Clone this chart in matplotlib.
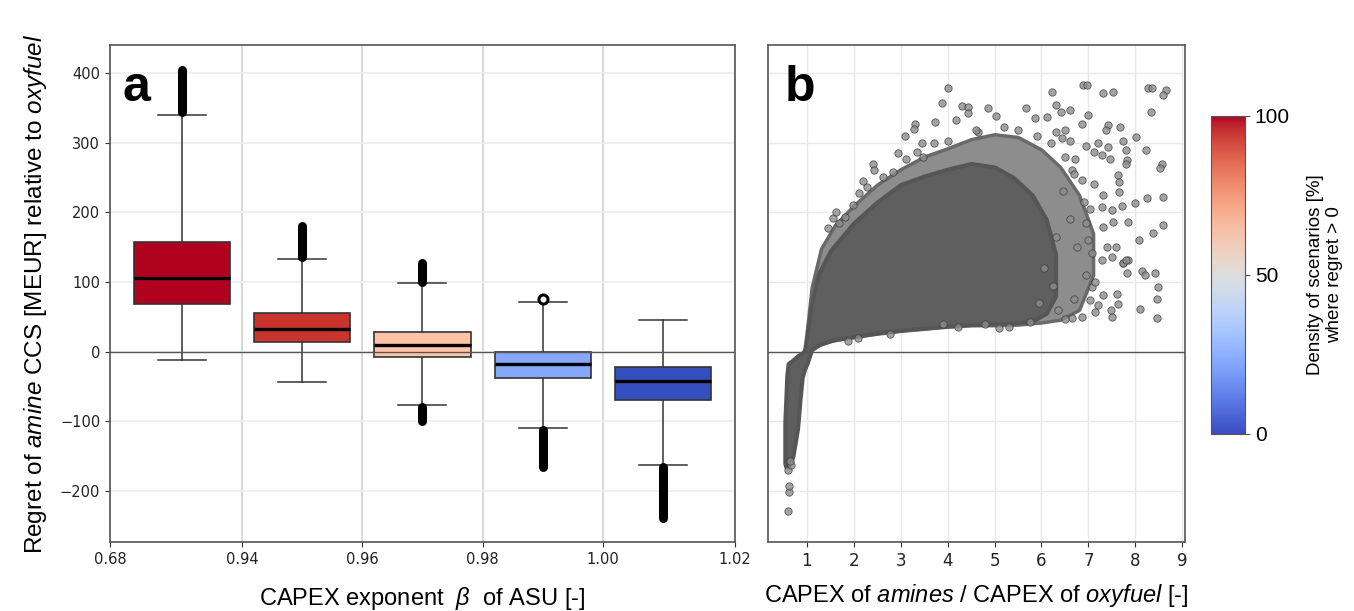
import numpy as np
import matplotlib.pyplot as plt
import matplotlib as mpl

plt.rcParams['mathtext.fontset'] = 'custom'
plt.rcParams['mathtext.rm'] = 'Liberation Sans'
plt.rcParams['mathtext.it'] = 'Liberation Sans:italic'

# ---- panel a: box statistics per CAPEX exponent bin (MEUR) ----
beta_ticks = ['0.68', '0.94', '0.96', '0.98', '1.00', '1.02']
box_colors = ['#b0021f', '#c9342d', '#fdc5a6', '#85a8fb', '#3450bf']
q1 = [69, 14, -7, -38, -69]
med = [106, 32, 9, -18, -42]
q3 = [158, 55, 28, -1, -22]
whis_lo = [-12, -43, -77, -110, -163]
whis_hi = [340, 133, 98, 71, 46]
# dense outlier runs (centres of first / last flier)
fl_hi_start = [344, 136, 100, 73, None]
fl_hi_end = [404, 180, 128, 75, None]
fl_lo_start = [None, None, -80, -113, -166]
fl_lo_end = [None, None, -99, -166, -239]

# ---- panel b: scatter of regret vs CAPEX ratio ----
# dense core of the point cloud
core_x = [0.53, 0.55, 0.57, 0.6, 0.7, 0.8, 0.85, 0.9, 0.95, 1.0, 1.1, 1.25,
          1.5, 2.0, 2.5, 3.0, 3.5, 4.0, 4.5, 5.0, 5.4, 5.8, 6.1, 6.3]
core_lo = [-160, -165, -165, -165, -150, -110, -70, -36, -25, -17, 3, 10,
           16, 22, 27, 31, 34, 37, 39, 40, 41, 44, 55, 80]
core_hi = [-100, -70, -36, -17, -12, -6, -4, -2, 2, 25, 70, 112,
           145, 185, 215, 240, 252, 262, 270, 265, 250, 225, 190, 140]
# less dense halo around the core
halo_x = [1.0, 1.1, 1.3, 1.6, 2.0, 2.5, 3.0, 3.5, 4.0, 4.5, 5.0, 5.5, 6.0,
          6.4, 6.8, 7.1]
halo_lo = [-17, 3, 11, 17, 21, 26, 30, 33, 36, 38, 38, 39, 42, 46, 60, 110]
halo_hi = [30, 92, 148, 182, 210, 240, 262, 280, 292, 305, 312, 308, 290,
           265, 225, 170]
# individual scattered scenarios outside the cloud
pts_x = [4.01, 3.89, 4.30, 4.44, 4.44, 3.30, 3.29, 3.74, 4.17, 3.09, 3.45, 4.00,
         4.65, 2.41, 2.42, 2.84, 2.63, 2.11, 2.27, 1.99, 1.81, 1.69, 3.34, 3.48,
         3.12, 6.89, 6.98, 6.22, 7.32, 7.52, 8.28, 8.35, 8.65, 8.60, 8.33, 4.85,
         5.67, 5.04, 5.86, 6.31, 6.42, 6.61, 6.11, 7.00, 6.87, 7.42, 7.38, 7.67,
         8.01, 7.74, 8.22, 8.56, 8.52, 7.80, 7.83, 7.80, 7.64, 7.65, 7.65, 8.26,
         8.58, 7.99, 7.72, 8.60, 8.38, 8.08, 7.85, 7.74, 7.84, 7.41, 7.21, 7.28,
         7.46, 6.94, 7.11, 6.71, 6.60, 6.43, 6.30, 6.50, 6.66, 6.86, 7.11, 7.32,
         7.04, 7.28, 7.50, 6.94, 7.32, 7.53, 7.00, 7.39, 7.59, 7.28, 7.50, 7.07,
         7.50, 8.46, 8.10, 8.46, 8.49, 7.82, 8.14, 8.42, 8.21, 7.64, 7.62, 7.32,
         7.49, 7.14, 6.86, 6.66, 6.50, 7.74, 7.81, 7.07, 7.04, 7.21,
         1.88, 2.09, 2.77, 4.23, 0.59, 0.62, 0.62, 0.59, 0.66, 0.64,
         5.2, 5.5, 5.9, 6.2, 6.5, 6.7, 6.9, 6.6, 6.3, 6.05, 5.3, 4.8,
         6.95, 6.75, 6.45, 6.25, 5.95, 6.35, 6.7, 7.15, 4.6, 3.7, 2.95, 2.2,
         1.55, 1.45, 1.62, 3.9, 5.1, 5.75]
pts_y = [378, 357, 352, 351, 343, 327, 319, 329, 333, 309, 300, 302,
         315, 269, 261, 258, 250, 227, 236, 211, 194, 184, 287, 279,
         277, 382, 382, 373, 371, 373, 379, 379, 375, 369, 344, 350,
         350, 338, 335, 354, 344, 347, 337, 339, 326, 325, 318, 323,
         308, 302, 290, 269, 264, 289, 275, 269, 253, 244, 229, 221,
         222, 214, 209, 182, 171, 160, 186, 127, 132, 293, 300, 282,
         276, 295, 287, 277, 303, 306, 315, 318, 260, 246, 241, 225,
         205, 208, 203, 184, 179, 186, 160, 150, 150, 131, 136, 141,
         50, 48, 62, 76, 93, 113, 116, 113, 110, 69, 83, 81,
         60, 57, 50, 48, 47, 127, 131, 93, 74, 67,
         15, 20, 26, 36, -228, -201, -193, -170, -163, -157,
         322, 318, 310, 300, 280, 255, 215, 190, 165, 120, 36, 40,
         110, 150, 230, 95, 70, 60, 75, 100, 318, 300, 285, 245,
         192, 178, 200, 40, 34, 42]

fig = plt.figure(figsize=(13.54, 6.11), dpi=100)
ax_a = fig.add_axes([0.0812, 0.1129, 0.4616, 0.8134])
ax_b = fig.add_axes([0.5672, 0.1129, 0.3080, 0.8134], sharey=ax_a)
cax = fig.add_axes([0.8944, 0.2897, 0.0251, 0.5205])

# ---- panel a ----
pos = np.arange(1, 6)
stats = [dict(med=m, q1=a, q3=b, whislo=lo, whishi=hi, fliers=[])
         for m, a, b, lo, hi in zip(med, q1, q3, whis_lo, whis_hi)]
bp = ax_a.bxp(stats, positions=pos, widths=0.8, capwidths=0.4, patch_artist=True,
              showfliers=False,
              boxprops=dict(edgecolor='#333333', linewidth=1.2),
              medianprops=dict(color='black', linewidth=2.4, zorder=4),
              whiskerprops=dict(color='#333333', linewidth=1.1),
              capprops=dict(color='#333333', linewidth=1.1))
for patch, c in zip(bp['boxes'], box_colors):
    patch.set_facecolor(c)
    patch.set_zorder(3)
for i in range(5):
    for s, e in ((fl_hi_start[i], fl_hi_end[i]), (fl_lo_start[i], fl_lo_end[i])):
        if s is None:
            continue
        if i == 3 and s > 0:
            ax_a.plot([pos[i]], [e], 'o', ms=6.5, mfc='white', mec='black', mew=2.2, zorder=4)
        else:
            ax_a.vlines(pos[i], s, e, colors='black', linewidth=6.5,
                        capstyle='round', zorder=4)

ax_a.axhline(0, color='#555555', lw=1.0, zorder=3.5)
ax_a.set_xlim(0.4, 5.6)
ax_a.set_ylim(-273, 440)
ax_a.set_xticks([0.4, 1.5, 2.5, 3.5, 4.5, 5.6])
ax_a.set_xticklabels(beta_ticks)
ax_a.set_yticks([-200, -100, 0, 100, 200, 300, 400])
ax_a.grid(axis='x', color='#d2d2d2', lw=1.2, zorder=0)
ax_a.grid(axis='y', color='#eeeeee', lw=1.2, zorder=0)
ax_a.set_axisbelow(True)
ax_a.tick_params(labelsize=10.5, colors='#333333', labelcolor='#222222')
ax_a.set_xlabel(r'CAPEX exponent  $\beta$  of ASU [-]', fontsize=17,
                family='Liberation Sans', labelpad=13)
ax_a.set_ylabel(r'Regret of $\it{amine}$ CCS [MEUR] relative to $\it{oxyfuel}$',
                fontsize=17.5, family='Liberation Sans', labelpad=8)
ax_a.text(0.02, 0.96, 'a', transform=ax_a.transAxes, fontsize=36,
          fontweight='bold', family='Liberation Sans', va='top', ha='left')

# ---- panel b ----
ax_b.fill_between(halo_x, halo_lo, halo_hi, facecolor='#8d8d8d',
                  edgecolor='#6a6a6a', lw=2.5, zorder=2)
ax_b.fill_between(core_x, core_lo, core_hi, facecolor='#5f5f5f',
                  edgecolor='#565656', lw=3, zorder=2.5)
ax_b.scatter(pts_x, pts_y, s=28, facecolor='#8c8c8c', edgecolor='#3a3a3a',
             linewidth=0.6, alpha=0.8, zorder=3)
ax_b.axhline(0, color='#555555', lw=1.0, zorder=3.5)
ax_b.set_xlim(0.17, 9.06)
ax_b.set_xticks(range(1, 10))
ax_b.grid(color='#e8e8e8', lw=1.0, zorder=0)
ax_b.set_axisbelow(True)
ax_b.tick_params(axis='y', left=False, labelleft=False)
ax_b.tick_params(axis='x', labelsize=12, colors='#333333', labelcolor='#222222')
ax_b.set_xlabel(r'CAPEX of $\it{amines}$ / CAPEX of $\it{oxyfuel}$ [-]', fontsize=17,
                family='Liberation Sans', labelpad=9)
ax_b.text(0.04, 0.96, 'b', transform=ax_b.transAxes, fontsize=36,
          fontweight='bold', family='Liberation Sans', va='top', ha='left')

for ax in (ax_a, ax_b):
    for sp in ax.spines.values():
        sp.set_color('#555555')
        sp.set_linewidth(1.2)

# ---- colourbar ----
norm = mpl.colors.Normalize(0, 100)
cb = fig.colorbar(mpl.cm.ScalarMappable(norm=norm, cmap='coolwarm'), cax=cax)
cb.set_ticks([0, 50, 100])
cb.ax.tick_params(labelsize=15, colors='#555555', labelcolor='black')
for t in cb.ax.get_yticklabels():
    t.set_family('Liberation Sans')
cb.outline.set_edgecolor('#555555')
cb.set_label('Density of scenarios [%]\nwhere regret > 0', fontsize=13.5,
             family='Liberation Sans', labelpad=12)

fig.savefig('out.png', dpi=100)
